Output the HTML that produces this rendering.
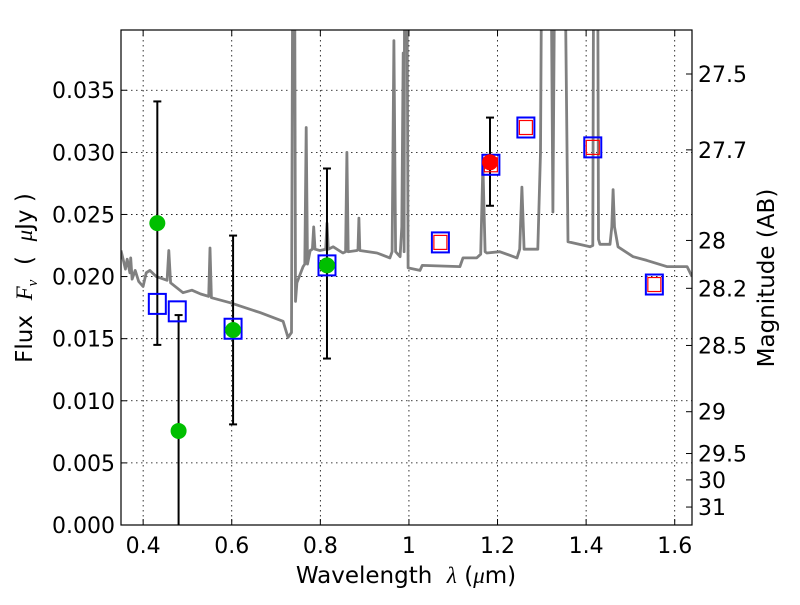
<!DOCTYPE html>
<html><head><meta charset="utf-8"><style>
body{margin:0;background:#fff;}
svg text{font-family:"DejaVu Sans","Liberation Sans",sans-serif;white-space:pre;}
</style></head><body>
<svg id="c" width="800" height="600" xmlns="http://www.w3.org/2000/svg">
<defs><clipPath id="pc"><rect x="121" y="30" width="571" height="495"/></clipPath></defs>
<rect x="0" y="0" width="800" height="600" fill="#fff"/>
<g id="grid"></g>
<g id="spec" clip-path="url(#pc)"></g>
<g id="marks" clip-path="url(#pc)"></g>
<rect x="121" y="30" width="571" height="495" fill="none" stroke="#000" stroke-width="1.2"/>
<g id="axes"></g>
<text x="406" y="583" font-size="23" text-anchor="middle">Wavelength  <tspan font-style="italic" font-family="Liberation Serif">λ</tspan> (<tspan font-style="italic" font-family="Liberation Serif">μ</tspan>m)</text>
<text transform="translate(32,278) rotate(-90)" font-size="23" text-anchor="middle">Flux  <tspan font-style="italic" font-family="Liberation Serif">F<tspan font-size="15" dy="5">ν</tspan></tspan><tspan dy="-5">  (  </tspan><tspan font-style="italic" font-family="Liberation Serif">μ</tspan>Jy )</text>
<text transform="translate(774,278) rotate(-90)" font-size="23" text-anchor="middle">Magnitude (AB)</text>
</svg>
<script>
const specLam=[0.35,0.356,0.36,0.364,0.37,0.372,0.375,0.382,0.39,0.40,0.407,0.415,0.43,0.454,0.458,0.462,0.49,0.51,0.53,0.548,0.551,0.554,0.596,0.664,0.716,0.727,0.735,0.739,0.741,0.744,0.747,0.761,0.765,0.768,0.771,0.777,0.782,0.785,0.788,0.799,0.812,0.815,0.818,0.829,0.851,0.857,0.860,0.863,0.883,0.885,0.887,0.889,0.928,0.957,0.962,0.966,0.970,0.980,0.984,0.987,0.989,0.991,0.994,0.998,1.025,1.03,1.115,1.122,1.153,1.162,1.167,1.172,1.176,1.205,1.244,1.250,1.255,1.260,1.266,1.291,1.297,1.302,1.31,1.318,1.325,1.332,1.34,1.348,1.359,1.409,1.415,1.418,1.425,1.428,1.431,1.454,1.458,1.461,1.464,1.472,1.506,1.537,1.582,1.628,1.639];
const specFlux=[0.0221,0.0212,0.0206,0.0214,0.0203,0.0215,0.0198,0.0205,0.0196,0.0192,0.0203,0.0205,0.0200,0.0197,0.0221,0.0195,0.0187,0.0189,0.0186,0.0184,0.0223,0.0183,0.0179,0.0171,0.0164,0.0151,0.0155,0.06,0.06,0.018,0.0195,0.0208,0.021,0.032,0.021,0.0221,0.0222,0.024,0.0222,0.0221,0.0222,0.0243,0.0222,0.0224,0.0219,0.022,0.030,0.022,0.0221,0.0222,0.0247,0.0221,0.0219,0.0215,0.022,0.039,0.022,0.0216,0.024,0.038,0.022,0.06,0.06,0.0207,0.0205,0.0209,0.0208,0.0215,0.0215,0.0218,0.029,0.022,0.0219,0.022,0.0215,0.0222,0.0272,0.0222,0.0222,0.0222,0.03,0.06,0.06,0.06,0.0252,0.06,0.06,0.06,0.0228,0.0224,0.0225,0.06,0.06,0.023,0.0226,0.0226,0.024,0.027,0.024,0.0224,0.0216,0.0213,0.0208,0.0208,0.0200];
const sqLam=[0.432,0.477,0.603,0.815,1.071,1.185,1.264,1.415,1.554];
const sqFlux=[0.0178,0.0172,0.0158,0.0209,0.02275,0.0290,0.0320,0.0304,0.01936];
const redSqLam=[1.071,1.185,1.264,1.415,1.554];
const redSqFlux=[0.02275,0.0290,0.0320,0.0304,0.01936];
const dotLam=[0.432,0.480,0.603,0.815];
const dotFlux=[0.0243,0.00757,0.0157,0.0209];
const redDotLam=[1.183];
const redDotFlux=[0.0292];
const errLam=[0.432,0.480,0.603,0.815,1.183];
const errLo=[0.0145,-0.002,0.0081,0.0134,0.0257];
const errHi=[0.0341,0.0169,0.0233,0.0287,0.0328];
const xTicks=[0.4,0.6,0.8,1.0,1.2,1.4,1.6];
const xTickLabels=["0.4","0.6","0.8","1","1.2","1.4","1.6"];
const yTicks=[0,0.005,0.010,0.015,0.020,0.025,0.030,0.035];
const yTickLabels=["0.000","0.005","0.010","0.015","0.020","0.025","0.030","0.035"];
const magTicks=[27.5,27.7,28,28.2,28.5,29,29.5,30,31];
const magTickLabels=["27.5","27.7","28","28.2","28.5","29","29.5","30","31"];

const X0=121,X1=692,Y0=525,Y1=30,LMIN=0.35,LMAX=1.639,FMIN=0,FMAX=0.03985;
const sx=l=>X0+(l-LMIN)/(LMAX-LMIN)*(X1-X0);
const sy=f=>Y0-(f-FMIN)/(FMAX-FMIN)*(Y0-Y1);
const NS="http://www.w3.org/2000/svg";
function mk(tag,parent,attrs){const e=document.createElementNS(NS,tag);for(const k in attrs)e.setAttribute(k,attrs[k]);parent.appendChild(e);return e;}
const grid=document.getElementById('grid'),axes=document.getElementById('axes'),spec=document.getElementById('spec'),marks=document.getElementById('marks');

xTicks.forEach((t,i)=>{const x=sx(t);
 let g=mk('line',grid,{x1:x,x2:x,y1:Y1,y2:Y0,stroke:'#000','stroke-width':0.8,'stroke-dasharray':'1.5,3.5'});
 
 let tk=mk('line',axes,{x1:x,x2:x,y1:Y0,y2:Y0-6,stroke:'#000'});
 
 let tk2=mk('line',axes,{x1:x,x2:x,y1:Y1,y2:Y1+6,stroke:'#000'});
 
 let tx=mk('text',axes,{x:x,y:553,'font-size':22,'text-anchor':'middle'});tx.textContent=xTickLabels[i];
 });
yTicks.forEach((t,i)=>{const y=sy(t);
 if(i>0){let g=mk('line',grid,{x1:X0,x2:X1,y1:y,y2:y,stroke:'#000','stroke-width':0.8,'stroke-dasharray':'1.5,3.5'});
 }
 let tk=mk('line',axes,{x1:X0,x2:X0+6,y1:y,y2:y,stroke:'#000'});
 
 let tx=mk('text',axes,{x:115,y:y+8,'font-size':22,'text-anchor':'end'});tx.textContent=yTickLabels[i];
 });
magTicks.forEach((m,i)=>{const y=sy(Math.pow(10,(23.9-m)/2.5));
 let tk=mk('line',axes,{x1:X1,x2:X1-6,y1:y,y2:y,stroke:'#000'});
 
 let tx=mk('text',axes,{x:698,y:y+8,'font-size':22,'text-anchor':'start'});tx.textContent=magTickLabels[i];
 });

const pts=specLam.map((l,i)=>sx(l).toFixed(1)+','+sy(specFlux[i]).toFixed(1)).join(' ');
const pl=mk('polyline',spec,{points:pts,fill:'none',stroke:'#808080','stroke-width':2.8,'stroke-linejoin':'round'});


errLam.forEach((l,i)=>{const x=sx(l),a=sy(errLo[i]),b=sy(errHi[i]);
 let e=mk('line',marks,{x1:x,x2:x,y1:a,y2:b,stroke:'#000','stroke-width':2});
 
 [a,b].forEach(yy=>{let c=mk('line',marks,{x1:x-4,x2:x+4,y1:yy,y2:yy,stroke:'#000','stroke-width':2});
  });});
sqLam.forEach((l,i)=>{const x=sx(l),y=sy(sqFlux[i]);
 let r=mk('rect',marks,{x:x-8.5,y:y-10,width:17,height:20,fill:'none',stroke:'#0000ff','stroke-width':2});
 });
redSqLam.forEach((l,i)=>{const x=sx(l),y=sy(redSqFlux[i]);
 let r=mk('rect',marks,{x:x-6.5,y:y-7,width:13,height:14,fill:'none',stroke:'#ff0000','stroke-width':1.2});
 });
dotLam.forEach((l,i)=>{let c=mk('circle',marks,{cx:sx(l),cy:sy(dotFlux[i]),r:8,fill:'#00bf00'});
 });
redDotLam.forEach((l,i)=>{let c=mk('circle',marks,{cx:sx(l),cy:sy(redDotFlux[i]),r:8,fill:'#ff0000'});
 });
</script>
</body></html>
